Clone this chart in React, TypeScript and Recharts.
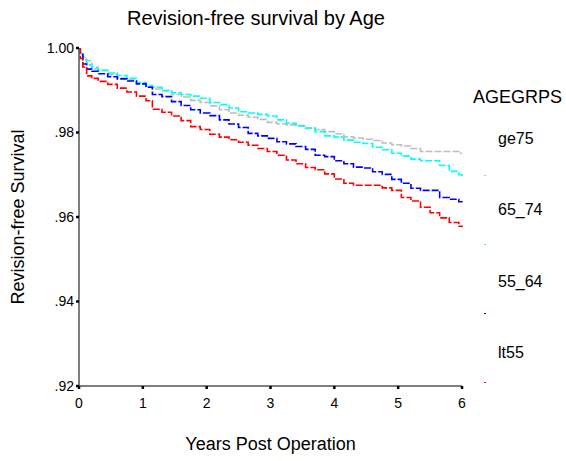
import { Line, LineChart, XAxis, YAxis } from 'recharts'

// years after operation at which the curves were read
const years = [
  0, 0.02, 0.06, 0.12, 0.2, 0.3, 0.45, 0.6, 0.75, 0.9, 1.05, 1.15, 1.3, 1.45, 1.6, 1.75, 1.9,
  2.05, 2.2, 2.35, 2.5, 2.65, 2.8, 2.95, 3.1, 3.25, 3.4, 3.55, 3.7, 3.85, 4.0, 4.15, 4.3, 4.45,
  4.6, 4.75, 4.9, 5.05, 5.2, 5.35, 5.5, 5.65, 5.8, 5.95, 6.0,
]

const ge75 = [
  1.0, 0.9988, 0.9978, 0.997, 0.9955, 0.9947, 0.9937, 0.9929, 0.9924, 0.9917, 0.9908, 0.9903,
  0.9899, 0.989, 0.9884, 0.9876, 0.9871, 0.9863, 0.9854, 0.9846, 0.9841, 0.9836, 0.9831, 0.9824,
  0.982, 0.9818, 0.9815, 0.9811, 0.9807, 0.9802, 0.9797, 0.979, 0.9787, 0.9784, 0.9781, 0.9775,
  0.9771, 0.9768, 0.9762, 0.9755, 0.9755, 0.9755, 0.9755, 0.9751, 0.9751,
]

const age65to74 = [
  1.0, 0.999, 0.9972, 0.996, 0.9951, 0.9947, 0.9941, 0.9935, 0.9928, 0.9918, 0.9911, 0.9907,
  0.9899, 0.9894, 0.989, 0.9886, 0.9881, 0.9871, 0.9866, 0.9858, 0.9849, 0.9846, 0.9843, 0.9839,
  0.983, 0.9822, 0.9816, 0.981, 0.9802, 0.9792, 0.9789, 0.9782, 0.9777, 0.9774, 0.9765, 0.9759,
  0.9751, 0.9744, 0.9737, 0.9733, 0.9733, 0.9722, 0.9708, 0.97, 0.9694,
]

const age55to64 = [
  1.0, 0.9985, 0.9962, 0.995, 0.9945, 0.9939, 0.9932, 0.9927, 0.9922, 0.9915, 0.9907, 0.989,
  0.9885, 0.9873, 0.9864, 0.9854, 0.9846, 0.984, 0.983, 0.982, 0.9812, 0.9798, 0.9792, 0.9786,
  0.9778, 0.9773, 0.9767, 0.976, 0.9746, 0.9743, 0.9733, 0.9726, 0.9718, 0.9716, 0.9707, 0.9701,
  0.9689, 0.968, 0.9668, 0.9663, 0.9663, 0.9646, 0.9642, 0.9636, 0.9635,
]

const lt55 = [
  1.0, 0.9975, 0.9955, 0.9934, 0.9928, 0.9921, 0.9914, 0.9905, 0.9896, 0.9886, 0.9875, 0.9855,
  0.9848, 0.9839, 0.9828, 0.9814, 0.9807, 0.9796, 0.9789, 0.9783, 0.9777, 0.977, 0.9762, 0.9755,
  0.9746, 0.9735, 0.9726, 0.9717, 0.9712, 0.9702, 0.969, 0.968, 0.9675, 0.9675, 0.9675, 0.9669,
  0.9663, 0.9646, 0.9638, 0.9623, 0.961, 0.9598, 0.9587, 0.9578, 0.9576,
]

const xTicks = [0, 1, 2, 3, 4, 5, 6]
const yTicks = [0.92, 0.94, 0.96, 0.98, 1.0]

const series = [
  { key: 'ge75', label: 'ge75', color: '#bdbdbd', values: ge75 },
  { key: 'a65', label: '65_74', color: '#00ffff', values: age65to74 },
  { key: 'a55', label: '55_64', color: '#0000ff', values: age55to64 },
  { key: 'lt55', label: 'lt55', color: '#ff0000', values: lt55 },
]

const data = years.map((t, i) => {
  const row: Record<string, number> = { t }
  series.forEach((s) => {
    row[s.key] = s.values[i]
  })
  return row
})

const font = 'Arial, "Liberation Sans", sans-serif'

const fmtY = (v: number) => (v >= 1 ? '1.00' : v.toFixed(2).slice(1))

export default function App() {
  return (
    <div style={{ position: 'absolute', left: 0, top: 0, width: 566, height: 461, background: '#fff', fontFamily: font }}>
      <LineChart width={566} height={461} data={data} margin={{ top: 48, right: 104, bottom: 45, left: 0 }}>
        <XAxis
          dataKey="t"
          type="number"
          domain={[0, 6]}
          ticks={xTicks}
          height={30}
          tickSize={3}
          tickMargin={9}
          axisLine={{ stroke: '#555', strokeWidth: 1.5 }}
          tickLine={{ stroke: '#000', strokeWidth: 2.5 }}
          tick={{ fill: '#000', fontSize: 14, fontFamily: font }}
        />
        <YAxis
          type="number"
          domain={[0.92, 1.0]}
          ticks={yTicks}
          width={79}
          tickSize={3}
          tickMargin={2}
          tickFormatter={fmtY}
          axisLine={{ stroke: '#555', strokeWidth: 1.5 }}
          tickLine={{ stroke: '#000', strokeWidth: 2.5 }}
          tick={{ fill: '#000', fontSize: 14, fontFamily: font }}
          allowDataOverflow
        />
        {series.map((s) => (
          <Line
            key={s.key}
            dataKey={s.key}
            type="stepAfter"
            stroke={s.color}
            strokeWidth={1.6}
            strokeDasharray="7 2"
            dot={false}
            isAnimationActive={false}
          />
        ))}
      </LineChart>

      <div style={{ position: 'absolute', left: 0, width: 512, top: 7, textAlign: 'center', fontSize: 20, color: '#000' }}>
        Revision-free survival by Age
      </div>
      <div style={{ position: 'absolute', left: 79, width: 383, top: 434, textAlign: 'center', fontSize: 18, color: '#000' }}>
        Years Post Operation
      </div>
      <div
        style={{
          position: 'absolute',
          left: 18,
          top: 217,
          transform: 'translate(-50%, -50%) rotate(-90deg)',
          whiteSpace: 'nowrap',
          fontSize: 18,
          color: '#000',
        }}
      >
        Revision-free Survival
      </div>

      <div style={{ position: 'absolute', left: 473, top: 87, fontSize: 18, color: '#000' }}>AGEGRPS</div>
      {series.map((s, i) => (
        <div key={s.key}>
          <div style={{ position: 'absolute', left: 498, top: 130 + i * 71.3, fontSize: 16, color: '#000' }}>{s.label}</div>
          <div style={{ position: 'absolute', left: 484, top: 175 + i * 69, width: 2, height: 1, background: s.color }} />
        </div>
      ))}
    </div>
  )
}
